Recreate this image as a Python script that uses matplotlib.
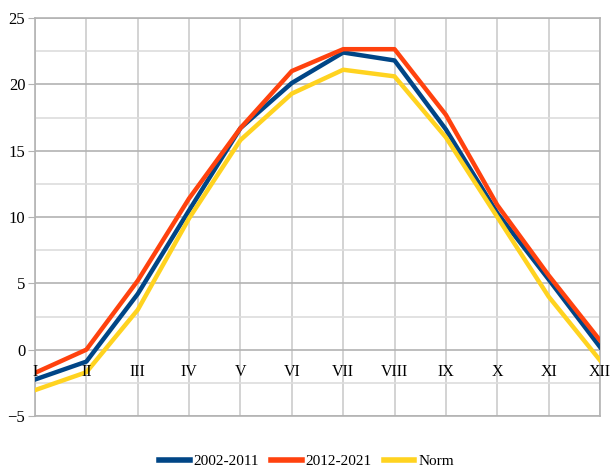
import matplotlib.pyplot as plt
from matplotlib.ticker import MultipleLocator

months = ["I", "II", "III", "IV", "V", "VI", "VII", "VIII", "IX", "X", "XI", "XII"]
temp_2002_2011 = [-2.25, -0.9, 4.2, 10.5, 16.7, 20.1, 22.4, 21.8, 16.6, 10.3, 5.3, 0.2]
temp_2012_2021 = [-1.75, 0.0, 5.2, 11.4, 16.7, 21.0, 22.65, 22.65, 17.7, 10.9, 5.6, 0.7]
temp_norm = [-3.05, -1.7, 3.0, 9.9, 15.8, 19.3, 21.1, 20.6, 16.0, 10.0, 4.0, -0.8]

plt.rcParams["font.family"] = ["Liberation Serif", "DejaVu Serif"]

fig = plt.figure(figsize=(6.13, 4.71), dpi=100)
ax = fig.add_axes([35 / 613, 55 / 471, 565 / 613, 398 / 471])

x = range(len(months))
ax.plot(x, temp_2002_2011, color="#004586", lw=3.2, label="2002-2011", zorder=3)
ax.plot(x, temp_2012_2021, color="#ff420e", lw=3.2, label="2012-2021", zorder=3)
ax.plot(x, temp_norm, color="#ffd320", lw=3.2, label="Norm", zorder=3)

ax.set_xlim(0, len(months) - 1)
ax.set_ylim(-5, 25)
ax.yaxis.set_major_locator(MultipleLocator(5))
ax.yaxis.set_minor_locator(MultipleLocator(2.5))
ax.set_xticks(list(x))
ax.set_xticklabels([])

ax.grid(axis="y", which="major", color="#b3b3b3", lw=1.2, zorder=0)
ax.grid(axis="y", which="minor", color="#dddddd", lw=1.2, zorder=0)
ax.grid(axis="x", which="major", color="#cccccc", lw=1.2, zorder=0)

for s in ax.spines.values():
    s.set_color("#b3b3b3")
    s.set_linewidth(1.2)

# month names sit under the zero line and on top of the curves
for i, m in zip(x, months):
    ax.annotate(m, (i, 0), xytext=(0, -10), textcoords="offset points",
                ha="center", va="top", fontsize=11.5, zorder=5,
                annotation_clip=False)

ax.tick_params(axis="x", length=0)
ax.tick_params(axis="y", which="major", length=5, color="#b3b3b3", pad=2, labelsize=12)
ax.tick_params(axis="y", which="minor", length=0)

leg = fig.legend(loc="center", bbox_to_anchor=(0.5, 10 / 471), ncol=3, frameon=False,
                 fontsize=11, handlelength=2.0, handletextpad=0.25, columnspacing=0.8)
for h in leg.get_lines():
    h.set_linewidth(4)

fig.savefig("out.png", dpi=100)
